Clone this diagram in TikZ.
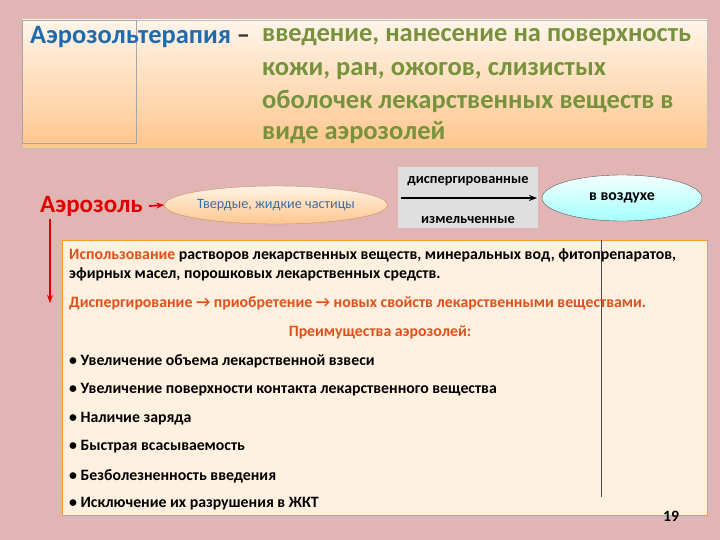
\documentclass[tikz,border=0pt]{standalone}
\usepackage{fontspec}
\setmainfont{Carlito}
\usetikzlibrary{arrows.meta,shapes.geometric}
\definecolor{bg}{HTML}{E2B5B5}
\definecolor{ttl}{HTML}{1F6AAE}
\definecolor{grn}{HTML}{76923C}
\definecolor{rd}{HTML}{E00000}
\definecolor{org}{HTML}{E0501A}
\begin{document}
\begin{tikzpicture}[x=1pt,y=-1pt,
  txt/.style={anchor=west,inner sep=0pt,font=\bfseries\fontsize{15.8}{18}\selectfont},
  big/.style={anchor=west,inner sep=0pt,font=\bfseries\fontsize{26.5}{30}\selectfont,text=grn}]
\fill[bg] (0,0) rectangle (720,540);
\useasboundingbox (0,0) rectangle (720,540);
\shade[top color=orange!8,bottom color=orange!45] (22,20) rectangle (707,148);
\draw[gray!70!black,line width=0.6pt] (22,148) -- (707,148);
\draw[gray!50] (22,20) rectangle (707,148);
\draw[gray!70] (22,20) rectangle (136,143);
\node[big,text=ttl] (t0) at (30,37) {Аэрозольтерапия \textcolor{black!80}{–}};
\node[big] (t1) at (262,37) {введение, нанесение на поверхность};
\node[big] (t2) at (262,71) {кожи, ран, ожогов, слизистых};
\node[big] (t3) at (262,102) {оболочек лекарственных веществ в};
\node[big] (t4) at (262,133) {виде аэрозолей};
\node[anchor=west,inner sep=0pt,font=\bfseries\fontsize{25}{28}\selectfont,text=rd] (aer) at (40,206) {Аэрозоль};
\node[ellipse,draw=orange!60!black!60,shade,top color=orange!10,bottom color=orange!45,minimum width=198,minimum height=38,inner sep=0pt,font=\fontsize{14.2}{16}\selectfont,text=ttl!70!gray] (e1) at (276,205) {Твердые, жидкие частицы};
\fill[gray!25] (398,167) rectangle (538,228);
\node[font=\bfseries\fontsize{14.4}{16}\selectfont,inner sep=0pt] (d1) at (468,181) {диспергированные};
\node[font=\bfseries\fontsize{14.4}{16}\selectfont,inner sep=0pt] (d2) at (468,220) {измельченные};
\node[ellipse,draw=gray!70!black,shade,top color=cyan!5,bottom color=cyan!35,minimum width=160,minimum height=46,inner sep=0pt,font=\bfseries\fontsize{15.8}{18}\selectfont] (e2) at (622,198) {в воздухе};
\coordinate (a1) at (401,198);
\coordinate (a2) at (537,198);
\draw[line width=1.6pt,-{Stealth[length=8pt]}] (a1) -- (a2);
\draw[rd,line width=1.8pt,-{Stealth[length=8pt]}] (aer.east) ++(6,0) -- (e1.west);
\coordinate (v1) at (50,219);
\coordinate (v2) at (50,303);
\draw[rd,line width=1.5pt,-{Stealth[length=8pt]}] (v1) -- (v2);
\draw[orange!80,fill=orange!12] (62,240) rectangle (707,515);
\draw[gray!60!black] (601,240) -- (601,497);
\node[txt] (l1) at (69,255) {\textcolor{org}{Использование} растворов лекарственных веществ, минеральных вод, фитопрепаратов,};
\node[txt] (l2) at (69,274) {эфирных масел, порошковых лекарственных средств.};
\node[txt,text=org] (l3) at (69,303) {Диспергирование → приобретение → новых свойств лекарственными веществами.};
\node[txt,anchor=center,text=org] (l4) at (380,332) {Преимущества аэрозолей:};
\node[txt] (l5) at (69,361) {• Увеличение объема лекарственной взвеси};
\node[txt] (l6) at (69,390) {• Увеличение поверхности контакта лекарственного вещества};
\node[txt] (l7) at (69,419) {• Наличие заряда};
\node[txt] (l8) at (69,447) {• Быстрая всасываемость};
\node[txt] (l9) at (69,476) {• Безболезненность введения};
\node[txt] (l10) at (69,504) {• Исключение их разрушения в ЖКТ};
\node[txt] (n) at (663,516) {19};
\end{tikzpicture}
\end{document}
